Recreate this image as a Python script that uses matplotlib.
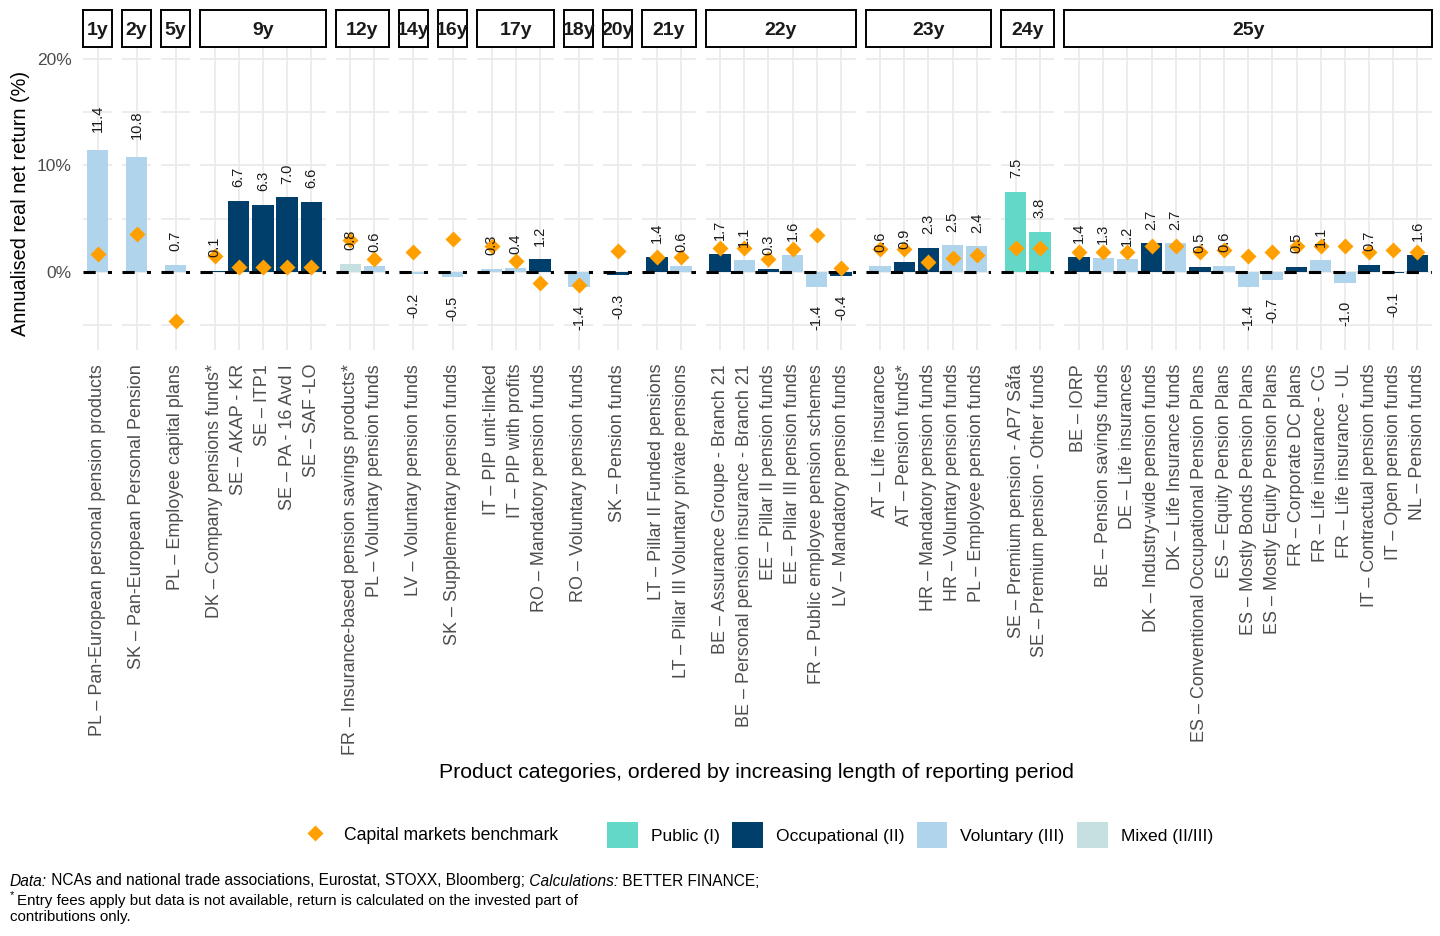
import matplotlib
matplotlib.use("Agg")
import matplotlib.pyplot as plt
from matplotlib import font_manager
from matplotlib.lines import Line2D
from matplotlib.patches import Patch

avail = {f.name for f in font_manager.fontManager.ttflist}
base_font = "Liberation Sans" if "Liberation Sans" in avail else "DejaVu Sans"
narrow_font = "Liberation Sans Narrow" if "Liberation Sans Narrow" in avail else base_font
plt.rcParams["font.family"] = [base_font, "DejaVu Sans"]

# ---- data ----
product = [
    "PL – Pan-European personal pension products",
    "SK – Pan-European Personal Pension",
    "PL – Employee capital plans",
    "DK – Company pensions funds*", "SE – AKAP - KR", "SE – ITP1", "SE – PA - 16 Avd I", "SE – SAF -LO",
    "FR – Insurance-based pension savings products*", "PL – Voluntary pension funds",
    "LV – Voluntary pension funds",
    "SK – Supplementary pension funds",
    "IT – PIP unit-linked", "IT – PIP with profits", "RO – Mandatory pension funds",
    "RO – Voluntary pension funds",
    "SK – Pension funds",
    "LT – Pillar II Funded pensions", "LT – Pillar III Voluntary private pensions",
    "BE – Assurance Groupe - Branch 21", "BE – Personal pension insurance - Branch 21",
    "EE – Pillar II pension funds", "EE – Pillar III pension funds",
    "FR – Public employee pension schemes", "LV – Mandatory pension funds",
    "AT – Life insurance", "AT – Pension funds*", "HR – Mandatory pension funds",
    "HR – Voluntary pension funds", "PL – Employee pension funds",
    "SE – Premium pension - AP7 Såfa", "SE – Premium pension - Other funds",
    "BE – IORP", "BE – Pension savings funds", "DE – Life insurances",
    "DK – Industry-wide pension funds", "DK – Life Insurance funds",
    "ES – Conventional Occupational Pension Plans", "ES – Equity Pension Plans",
    "ES – Mostly Bonds Pension Plans", "ES – Mostly Equity Pension Plans",
    "FR – Corporate DC plans", "FR – Life insurance - CG", "FR – Life insurance - UL",
    "IT – Contractual pension funds", "IT – Open pension funds", "NL – Pension funds",
]
period = (["1y", "2y", "5y"] + ["9y"] * 5 + ["12y"] * 2 + ["14y", "16y"] + ["17y"] * 3
          + ["18y", "20y"] + ["21y"] * 2 + ["22y"] * 6 + ["23y"] * 5 + ["24y"] * 2 + ["25y"] * 15)
pillar = ["V", "V", "V",
          "O", "O", "O", "O", "O",
          "M", "V",
          "V",
          "V",
          "V", "V", "O",
          "V",
          "O",
          "O", "V",
          "O", "V", "O", "V", "V", "O",
          "V", "O", "O", "V", "V",
          "P", "P",
          "O", "V", "V", "O", "V", "O", "V", "V", "V", "O", "V", "V", "O", "O", "O"]
net_return = [11.4, 10.8, 0.7,
              0.1, 6.7, 6.3, 7.0, 6.6,
              0.8, 0.6,
              -0.2,
              -0.5,
              0.3, 0.4, 1.2,
              -1.4,
              -0.3,
              1.4, 0.6,
              1.7, 1.1, 0.3, 1.6, -1.4, -0.4,
              0.6, 0.9, 2.3, 2.5, 2.4,
              7.5, 3.8,
              1.4, 1.3, 1.2, 2.7, 2.7, 0.5, 0.6, -1.4, -0.7, 0.5, 1.1, -1.0, 0.7, -0.1, 1.6]
benchmark = [1.7, 3.6, -4.6,
             1.5, 0.5, 0.5, 0.5, 0.5,
             3.0, 1.2,
             1.9,
             3.1,
             2.4, 1.0, -1.0,
             -1.2,
             2.0,
             1.4, 1.4,
             2.3, 2.3, 1.2, 2.2, 3.5, 0.4,
             2.2, 2.2, 0.9, 1.3, 1.6,
             2.3, 2.3,
             1.9, 1.9, 1.9, 2.4, 2.4, 1.9, 2.1, 1.5, 1.9, 2.4, 2.4, 2.4, 1.9, 2.1, 1.9]

pillar_names = {"P": "Public (I)", "O": "Occupational (II)", "V": "Voluntary (III)", "M": "Mixed (II/III)"}
pillar_colors = {"P": "#63D8C8", "O": "#003F6B", "V": "#B0D4EC", "M": "#C6DFE0"}
orange = "#FF9F00"
grid_col = "#EBEBEB"

W, H = 1440, 936
fig = plt.figure(figsize=(W / 100, H / 100), dpi=100)

facets = []
for p in period:
    if p not in facets:
        facets.append(p)
counts = [period.count(p) for p in facets]

left, right, gap = 83, 1432, 10
unit = (right - left - gap * (len(facets) - 1)) / (sum(counts) + 0.2 * len(facets))
panel_top, panel_bot = 48, 350
strip_top, strip_bot = 10, 47
ylo, yhi = -7.3, 21.0

x0 = left
for k, (p, n) in enumerate(zip(facets, counts)):
    w = unit * (n + 0.2)
    ax = fig.add_axes([x0 / W, 1 - panel_bot / H, w / W, (panel_bot - panel_top) / H])
    idx = [i for i, q in enumerate(period) if q == p]
    xs = list(range(n))
    vals = [net_return[i] for i in idx]
    bms = [benchmark[i] for i in idx]
    cols = [pillar_colors[pillar[i]] for i in idx]

    ax.set_xlim(-0.6, n - 0.4)
    ax.set_ylim(ylo, yhi)
    ax.set_yticks([0, 10, 20])
    ax.set_yticks([-5, 5, 15], minor=True)
    ax.grid(True, which="major", color=grid_col, lw=1.3, zorder=0)
    ax.grid(True, which="minor", axis="y", color=grid_col, lw=1.3, zorder=0)
    ax.set_axisbelow(True)
    for s in ax.spines.values():
        s.set_visible(False)
    ax.tick_params(which="both", length=0)
    ax.set_xticks(xs)
    ax.set_xticklabels([product[i] for i in idx], rotation=90, ha="center", va="top",
                       fontsize=12.9, color="#4D4D4D")
    ax.tick_params(axis="x", pad=10)
    if k == 0:
        ax.set_yticklabels(["0%", "10%", "20%"], fontsize=12.5, color="#4D4D4D")
        ax.tick_params(axis="y", pad=8)
    else:
        ax.set_yticklabels([])

    ax.bar(xs, vals, width=0.88, color=cols, zorder=2)
    ax.axhline(0, color="black", lw=2.2, ls=(0, (4, 4)), zorder=3)
    ax.plot(xs, bms, ls="none", marker="D", ms=8.5, color=orange, mec="none", zorder=5)
    for x, v in zip(xs, vals):
        lbl = f"{v:.1f}"
        off = 3.3 * len(lbl)
        ax.annotate(lbl, (x, v), xytext=(0, off if v >= 0 else -off), textcoords="offset points",
                    rotation=90, ha="center", va="bottom" if v >= 0 else "top",
                    fontsize=10.5, color="#1A1A1A", zorder=6)

    sax = fig.add_axes([x0 / W, 1 - strip_bot / H, w / W, (strip_bot - strip_top) / H])
    sax.set_xticks([])
    sax.set_yticks([])
    for s in sax.spines.values():
        s.set_linewidth(1.4)
        s.set_color("black")
    sax.text(0.5, 0.45, p, ha="center", va="center", fontsize=14, fontweight="bold",
             color="#1A1A1A", transform=sax.transAxes, clip_on=False)

    x0 += w + gap

fig.text(21 / W, 1 - ((panel_top + panel_bot) / 2 + 4) / H, "Annualised real net return (%)",
         rotation=90, ha="center", va="center", fontsize=14.3)
fig.text(756 / W, 1 - 773 / H,
         "Product categories, ordered by increasing length of reporting period",
         ha="center", va="center", fontsize=15.3)

# two legends side by side, as in the reference
bm_handle = [Line2D([], [], ls="none", marker="D", ms=8.5, color=orange, mec="none")]
fig.legend(bm_handle, ["Capital markets benchmark"], loc="center left",
           bbox_to_anchor=(300 / W, 1 - 835 / H), frameon=False, fontsize=12.7,
           handlelength=1.75, handletextpad=0.75, borderpad=0, borderaxespad=0)
fill_handles, fill_labels = [], []
for key in ["P", "O", "V", "M"]:
    fill_handles.append(Patch(facecolor=pillar_colors[key], edgecolor="none"))
    fill_labels.append(pillar_names[key])
fig.legend(fill_handles, fill_labels, loc="center left", bbox_to_anchor=(607 / W, 1 - 835 / H),
           ncol=4, frameon=False, fontsize=12.6, handlelength=1.75, handleheight=1.85,
           handletextpad=0.75, columnspacing=0.7, borderpad=0, borderaxespad=0)

# footnote, written piece by piece to mix italic and upright
renderer = fig.canvas.get_renderer()


def text_run(x, y, parts, size=11.2):
    for s, style in parts:
        t = fig.text(x / W, 1 - y / H, s, fontsize=size, style=style, va="center",
                     family=[narrow_font, "DejaVu Sans"])
        x += t.get_window_extent(renderer).width
    return x


text_run(10, 881, [("Data:", "italic"),
                   (" NCAs and national trade associations, Eurostat, STOXX, Bloomberg;", "normal"),
                   (" Calculations:", "italic"), (" BETTER FINANCE;", "normal")])
fig.text(10 / W, 1 - 895 / H, "*", fontsize=8, va="center", family=[narrow_font, "DejaVu Sans"])
text_run(17, 901, [("Entry fees apply but data is not available, return is calculated on the invested part of",
                    "normal")], size=10.9)
text_run(10, 917, [("contributions only.", "normal")], size=10.9)

fig.savefig("out.png", dpi=100)
